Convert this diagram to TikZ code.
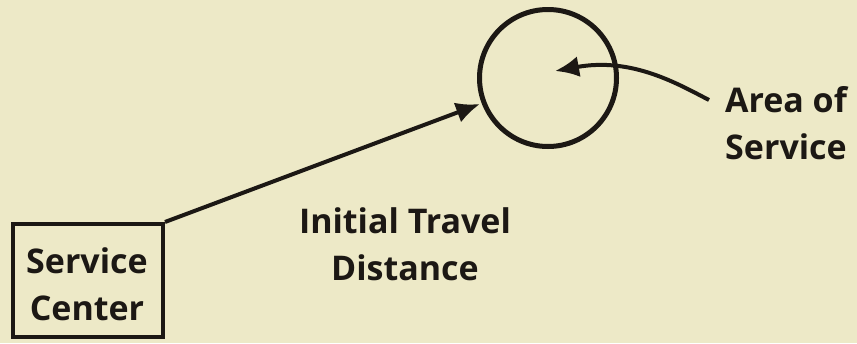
\documentclass[tikz,border=0pt]{standalone}
\usepackage{fontspec}
\setmainfont{Open Sans}
\usetikzlibrary{arrows.meta}
\definecolor{bg}{RGB}{237,233,199}
\definecolor{ink}{RGB}{28,24,20}
\begin{document}
\begin{tikzpicture}[x=1pt,y=-1pt,
  lbl/.style={font=\bfseries\fontsize{34}{47}\selectfont, text=ink, align=center, inner sep=0pt},
  conn/.style={draw=ink, line width=4pt, -{Latex[length=24pt,width=21pt]}}]
\fill[bg] (0,0) rectangle (857,343);
\useasboundingbox (0,0) rectangle (857,343);
\node[draw=ink, line width=4pt, minimum width=150pt, minimum height=113pt, inner sep=0pt] (box) at (88,280.5) {};
\node[lbl] (sc) at (87,284) {Service\\Center};
\node[draw=ink, line width=5pt, circle, minimum size=137pt, inner sep=0pt] (area) at (548,78) {};
\node[lbl] (it) at (405,244) {Initial Travel\\Distance};
\node[lbl] (as) at (786,123) {Area of\\Service};
\coordinate (tip1) at (480,104);
\coordinate (tip2) at (555,71);
\coordinate (start2) at (709,100);
\draw[conn] (box.north east) -- (tip1);
\draw[conn] (start2) .. controls (678,84) and (632,57) .. (tip2);
\end{tikzpicture}
\end{document}
